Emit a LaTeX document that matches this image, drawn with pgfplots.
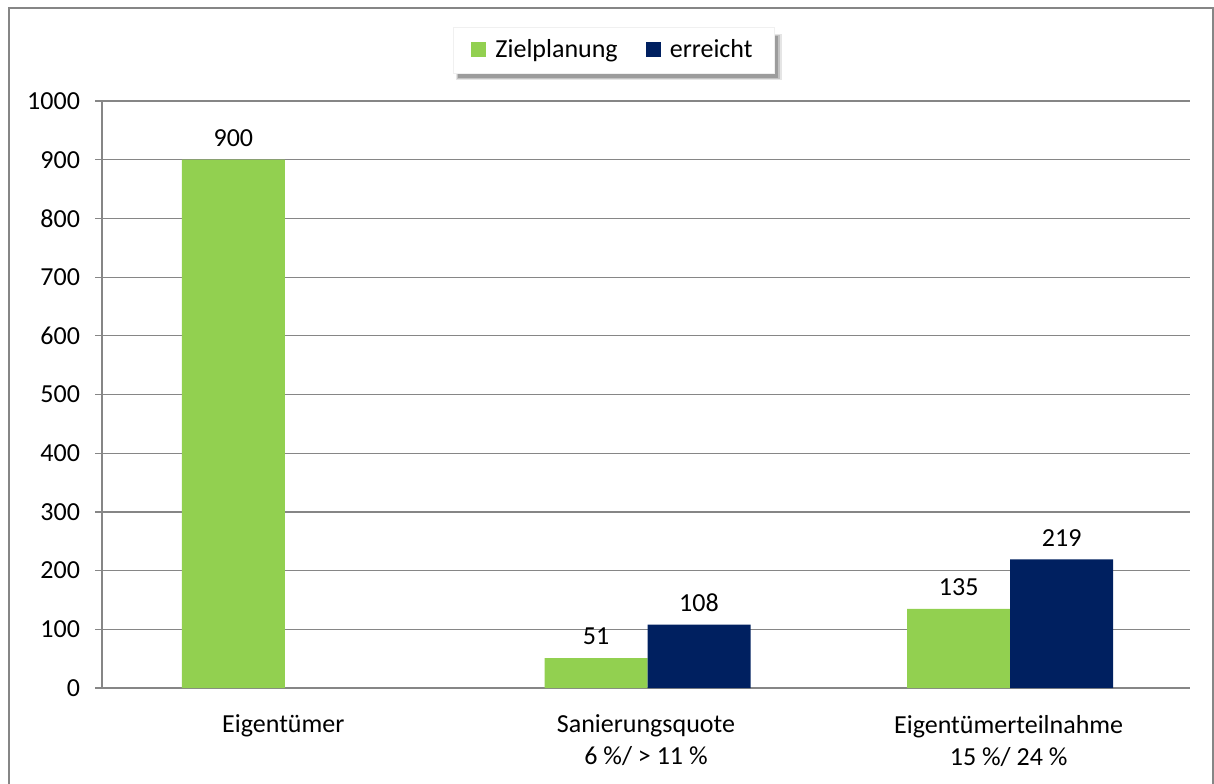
\documentclass[border=0pt]{standalone}
\usepackage{fontspec}
\setmainfont{Carlito}
\usepackage{pgfplots}
\pgfplotsset{compat=1.18}
\definecolor{zgreen}{HTML}{92D050}
\definecolor{znavy}{HTML}{002060}
\definecolor{zgrey}{HTML}{868686}
\begin{document}
\fontsize{13}{14}\selectfont
\begin{tikzpicture}
\useasboundingbox (0,0) rectangle (607pt,391.5pt);
\draw[zgrey, line width=1pt] (4.5pt,-2pt) -- (4.5pt,387.5pt) -- (606.5pt,387.5pt) -- (606.5pt,-2pt);
% soft legend shadow
\fill[black, opacity=0.10] (228pt,351.5pt) rectangle (391pt,374.5pt);
\fill[black, opacity=0.15] (228.5pt,352pt) rectangle (390pt,374pt);
\fill[black, opacity=0.20] (229pt,352.5pt) rectangle (389pt,373.5pt);
\begin{axis}[
  at={(51pt,47.5pt)}, anchor=south west,
  scale only axis, width=544pt, height=293.5pt,
  xmin=-0.5, xmax=2.5, ymin=0, ymax=1000,
  ytick={0,100,...,1000},
  xtick={0,1,2},
  xticklabels={Eigentümer,{Sanierungsquote\\6 \%/ > 11 \%},{Eigentümerteilnahme\\15 \%/ 24 \%}},
  x tick label style={align=center, yshift=-5.5pt, font=\fontsize{13}{16}\selectfont},
  y tick label style={xshift=-3pt},
  major x tick style={draw=none},
  extra x ticks={-0.5,0.5,1.5,2.5},
  extra x tick labels={},
  extra x tick style={grid=none, major tick length=4.5pt, tick align=outside, major tick style={draw=zgrey, line width=0.6pt}},
  ytick style={draw=zgrey, line width=0.6pt},
  tick align=outside, major tick length=3.5pt,
  axis x line*=bottom, axis y line*=left,
  axis line style={draw=zgrey, line width=0.6pt, -},
  ymajorgrids, grid style={draw=zgrey, line width=0.6pt},
  /pgf/number format/assume math mode=true,
  /pgf/number format/1000 sep={},
  tick label style={font=\fontsize{13}{14}\selectfont},
  ybar, bar width=51.5pt,
  nodes near coords, every node near coord/.append style={font=\fontsize{13}{14}\selectfont, yshift=2pt},
  legend columns=2,
  legend style={at={(0.4706,1.0869)}, anchor=center, draw=black!6, fill=white,
    inner xsep=9pt, inner ysep=4pt, font=\fontsize{13}{14}\selectfont,
    /tikz/every odd column/.append style={column sep=2.5pt},
    /tikz/every even column/.append style={column sep=12pt}},
  legend image code/.code={\fill[#1] (0pt,-3.75pt) rectangle (7.5pt,3.75pt);},
]
\addplot[fill=zgreen, draw=none, bar shift=-25pt] coordinates {(0,900) (1,51) (2,135)};
\addplot[fill=znavy, draw=none, bar shift=26.5pt] coordinates {(1,108) (2,219)};
\legend{Zielplanung, erreicht}
\end{axis}
\end{tikzpicture}
\end{document}
